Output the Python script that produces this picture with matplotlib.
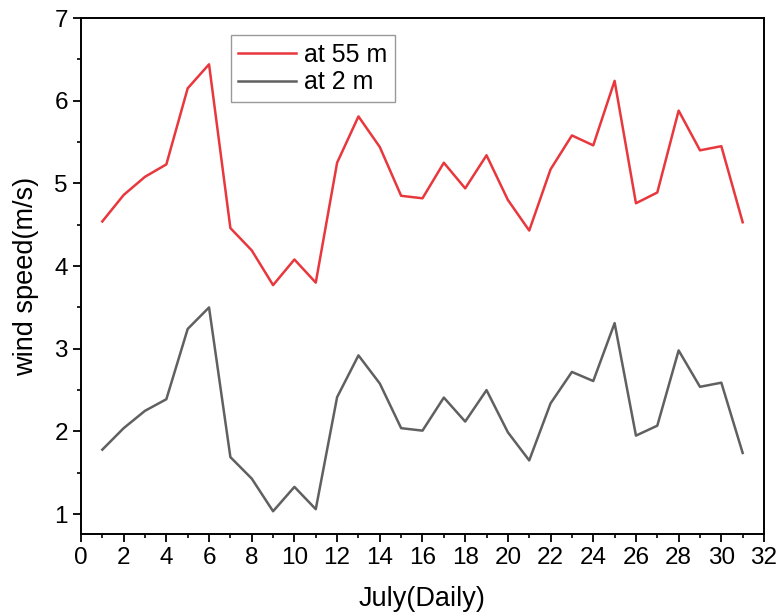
import matplotlib
matplotlib.use("Agg")
import matplotlib.pyplot as plt
from matplotlib.ticker import MultipleLocator

plt.rcParams['font.family'] = ['Liberation Sans', 'DejaVu Sans']

days = list(range(1, 32))
speed_55m = [4.54, 4.86, 5.08, 5.23, 6.15, 6.44, 4.46, 4.19, 3.77, 4.08, 3.80,
             5.25, 5.81, 5.44, 4.85, 4.82, 5.25, 4.94, 5.34, 4.80, 4.43, 5.17,
             5.58, 5.46, 6.24, 4.76, 4.89, 5.88, 5.40, 5.45, 4.53]
speed_2m = [1.78, 2.04, 2.25, 2.39, 3.24, 3.50, 1.69, 1.43, 1.035, 1.33, 1.06,
            2.415, 2.92, 2.58, 2.04, 2.01, 2.41, 2.12, 2.50, 1.99, 1.65, 2.34,
            2.72, 2.61, 3.31, 1.95, 2.07, 2.98, 2.54, 2.59, 1.74]
x_ticks = list(range(0, 33, 2))
y_ticks = [1, 2, 3, 4, 5, 6, 7]

fig = plt.figure(figsize=(7.77, 6.15), dpi=100)
ax = fig.add_axes([0.1042, 0.1317, 0.8791, 0.839])

ax.plot(days, speed_55m, color='#e8373d', lw=1.8, label='at 55 m')
ax.plot(days, speed_2m, color='#606060', lw=1.8, label='at 2 m')

ax.set_xlim(0, 32)
ax.set_ylim(0.76, 7)
ax.set_xticks(x_ticks)
ax.set_yticks(y_ticks)
ax.xaxis.set_minor_locator(MultipleLocator(1))
ax.yaxis.set_minor_locator(MultipleLocator(0.5))
ax.tick_params(which='major', direction='out', length=6, width=1.3, labelsize=17.5, top=False, right=False)
ax.tick_params(which='minor', direction='out', length=3, width=1.2, top=False, right=False)
for s in ax.spines.values():
    s.set_linewidth(1.4)

ax.set_xlabel('July(Daily)', fontsize=19.5, labelpad=12)
ax.set_ylabel('wind speed(m/s)', fontsize=19.5, labelpad=11)

leg = ax.legend(loc='upper left', bbox_to_anchor=(0.219, 0.967), fontsize=18,
                frameon=True, fancybox=False, handlelength=2.3, handletextpad=0.35,
                borderpad=0.3, labelspacing=0.15, borderaxespad=0)
leg.get_frame().set_edgecolor('#808080')
leg.get_frame().set_linewidth(1.0)

fig.savefig('out.png', dpi=100)
